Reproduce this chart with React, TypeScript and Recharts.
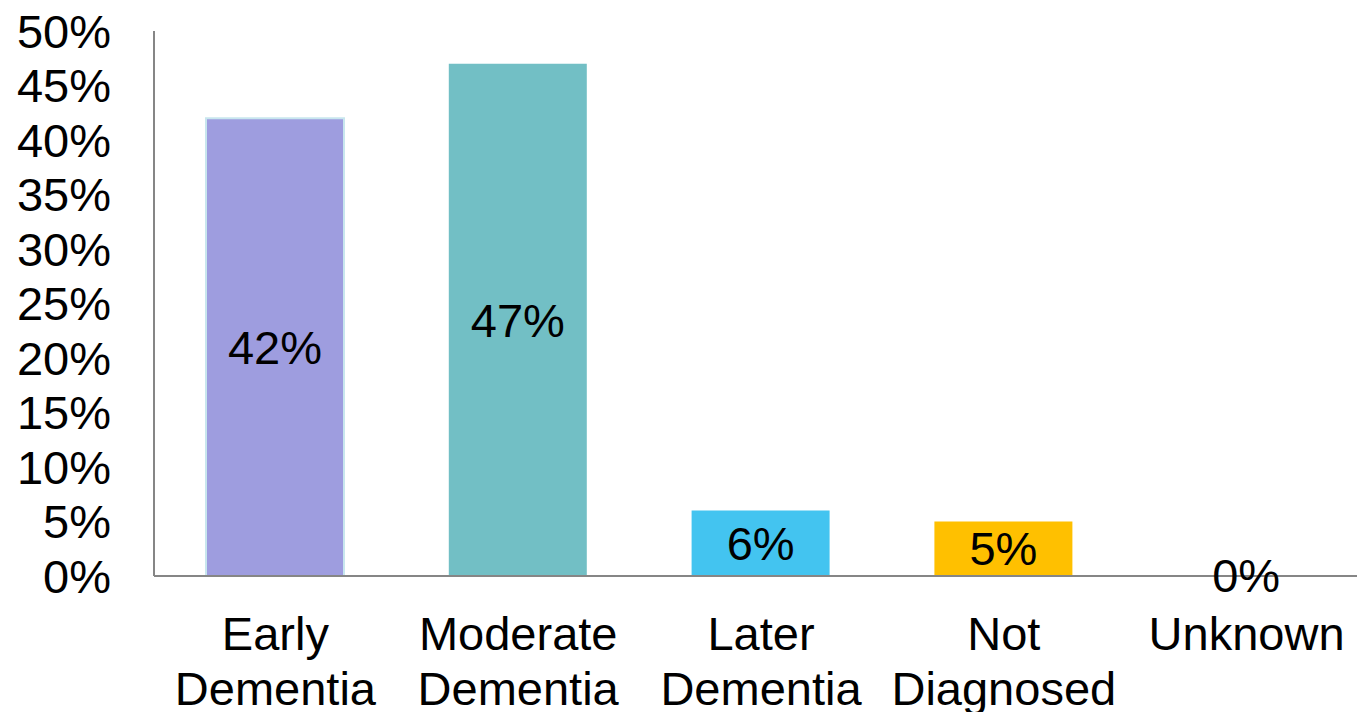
import React from 'react';
import { BarChart, Bar, XAxis, YAxis, Cell, LabelList } from 'recharts';

const categories = ['Early Dementia', 'Moderate Dementia', 'Later Dementia', 'Not Diagnosed', 'Unknown'];
const shares = [42, 47, 6, 5, 0];
const barColors = ['#9E9DDF', '#72BFC5', '#43C4F0', '#FFC000', 'transparent'];
const yTicks = [0, 5, 10, 15, 20, 25, 30, 35, 40, 45, 50];

const data = categories.map((name, i) => ({ name, value: shares[i] }));

const FONT = 'Liberation Sans, Arial, sans-serif';

const CategoryTick = (props: any) => {
    const { x, y, payload } = props;
    const lines = String(payload.value).split(' ');
    return (
        <text x={x} y={y} textAnchor="middle" fill="#000" fontSize={47} fontFamily={FONT}>
            {lines.map((ln, i) => (
                <tspan key={i} x={x} dy={i === 0 ? 72 : 55}>{ln}</tspan>
            ))}
        </text>
    );
};

export default function App() {
    // plot runs a bit past the right edge, like the cropped original
    return (
        <div style={{ width: 1357, height: 712, background: '#fff', overflow: 'hidden' }}>
            <style>{'body{margin:0}'}</style>
            <BarChart width={1386} height={712} data={data} margin={{ top: 31, right: 18, left: 0, bottom: 0 }}>
                <XAxis
                    dataKey="name"
                    height={136}
                    tickLine={false}
                    tickSize={0}
                    axisLine={{ stroke: '#868686', strokeWidth: 2 }}
                    tick={<CategoryTick />}
                    interval={0}
                />
                <YAxis
                    width={154}
                    domain={[0, 50]}
                    ticks={yTicks}
                    tickFormatter={(v: number) => `${v}%`}
                    tickLine={false}
                    tickSize={0}
                    tickMargin={43}
                    axisLine={{ stroke: '#868686', strokeWidth: 2 }}
                    tick={{ fill: '#000', fontSize: 47, fontFamily: FONT }}
                    interval={0}
                />
                <Bar dataKey="value" barSize={138} minPointSize={1} isAnimationActive={false}>
                    {data.map((d, i) => (
                        <Cell key={d.name} fill={barColors[i]} stroke={i === 0 ? '#C8E6EE' : 'none'} strokeWidth={i === 0 ? 2 : 0} />
                    ))}
                    <LabelList
                        dataKey="value"
                        position="center"
                        formatter={(v: any) => `${v}%`}
                        fill="#000"
                        fontSize={47}
                        fontFamily={FONT}
                    />
                </Bar>
            </BarChart>
        </div>
    );
}
